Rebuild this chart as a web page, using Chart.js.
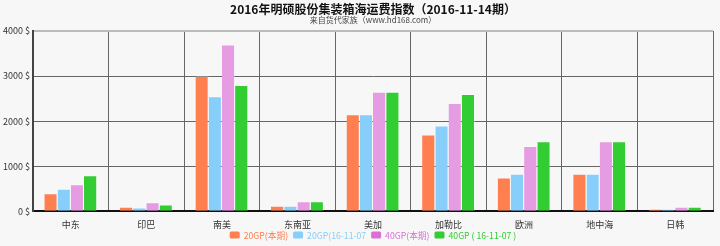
<!DOCTYPE html>
<html>
<head>
<meta charset="utf-8">
<script src="https://cdn.jsdelivr.net/npm/chart.js@4.4.1/dist/chart.umd.min.js"></script>
<style>
html,body{margin:0;padding:0;background:#f7f7f7;}
#wrap{width:720px;height:246px;position:relative;}
</style>
</head>
<body>
<div id="wrap"><canvas id="c"></canvas></div>
<script>
const categories = ['中东','印巴','南美','东南亚','美加','加勒比','欧洲','地中海','日韩'];
const seriesNames = ['20GP(本期)','20GP(16-11-07','40GP(本期)','40GP ( 16-11-07 )'];
const gp20Current = [400,100,3000,120,2150,1700,750,830,50];
const gp20Prev    = [500,80,2550,120,2150,1900,830,830,50];
const gp40Current = [600,200,3700,220,2650,2400,1450,1550,100];
const gp40Prev    = [800,150,2800,220,2650,2600,1550,1550,100];
const yTicks = [0,1000,2000,3000,4000];
const titleText = '2016年明硕股份集装箱海运费指数（2016-11-14期）';
const subtitleText = '来自货代家族（www.hd168.com）';

const barColors = ['#FF7F50','#87CEFA','#E69CE2','#32CD32'];
const legendColors = ['#FF7F50','#87CEFA','#DA70D6','#32CD32'];
const FONT = "'Noto Sans CJK SC','Noto Sans',sans-serif";

const values = [gp20Current, gp20Prev, gp40Current, gp40Prev];
const datasets = values.map((v,i)=>({
  label: seriesNames[i],
  data: v,
  backgroundColor: barColors[i],
  borderColor: 'rgba(255,255,255,0.25)',
  borderWidth: {top:1,left:0,right:1,bottom:0},
  categoryPercentage: 0.7,
  barPercentage: 1.0
}));

const headerLegend = {
  id: 'headerLegend',
  afterDraw(chart) {
    const ctx = chart.ctx;
    const a = chart.chartArea;
    const cx = (a.left + a.right) / 2;
    ctx.save();
    ctx.textAlign = 'center';
    ctx.textBaseline = 'middle';
    ctx.fillStyle = '#111';
    ctx.font = 'bold 12px ' + FONT;
    ctx.fillText(titleText, cx, 9);
    ctx.fillStyle = '#444';
    ctx.font = '8px ' + FONT;
    ctx.fillText(subtitleText, cx, 20);
    // legend
    ctx.font = '8.7px ' + FONT;
    const boxW = 10, boxH = 7, gap = 4, itemGap = 5;
    const widths = chart.data.datasets.map(d => boxW + gap + ctx.measureText(d.label).width);
    const total = widths.reduce((s,w)=>s+w,0) + itemGap*(widths.length-1);
    let x = cx - total/2;
    const y = 235;
    ctx.textAlign = 'left';
    chart.data.datasets.forEach((d,i) => {
      ctx.fillStyle = legendColors[i];
      ctx.beginPath();
      if (ctx.roundRect) ctx.roundRect(x, y - boxH/2, boxW, boxH, 1.5); else ctx.rect(x, y - boxH/2, boxW, boxH);
      ctx.fill();
      ctx.fillText(d.label, x + boxW + gap, y + 0.5);
      x += widths[i] + itemGap;
    });
    ctx.restore();
  }
};

new Chart(document.getElementById('c'), {
  type: 'bar',
  data: { labels: categories, datasets },
  plugins: [headerLegend],
  options: {
    responsive: true,
    maintainAspectRatio: false,
    animation: false,
    layout: { padding: { left: 0, right: 7, top: 31, bottom: 8 } },
    plugins: {
      title: { display: false },
      subtitle: { display: false },
      legend: { display: false },
      tooltip: { enabled: false }
    },
    scales: {
      x: {
        grid: {
          offset: true,
          color: (ctx) => ctx.index === categories.length ? '#d4d4d4' : '#666',
          lineWidth: (ctx) => ctx.index === categories.length ? 2 : 1,
          drawTicks: false
        },
        border: { display: true, color: '#111', width: 2 },
        ticks: { color: '#333', font: { family: FONT, size: 9 }, padding: 8 }
      },
      y: {
        min: 0, max: 4000,
        afterBuildTicks: (axis) => { axis.ticks = yTicks.map(v=>({value:v})); },
        grid: {
          color: (ctx) => ctx.tick && ctx.tick.value === 4000 ? '#bbb' : '#666',
          lineWidth: (ctx) => ctx.tick && ctx.tick.value === 4000 ? 2 : 1,
          drawTicks: false
        },
        border: { display: true, color: '#444', width: 2 },
        ticks: { color: '#333', font: { family: FONT, size: 9 }, padding: 3,
          callback: (v) => v + ' $' }
      }
    }
  }
});
</script>
</body>
</html>
